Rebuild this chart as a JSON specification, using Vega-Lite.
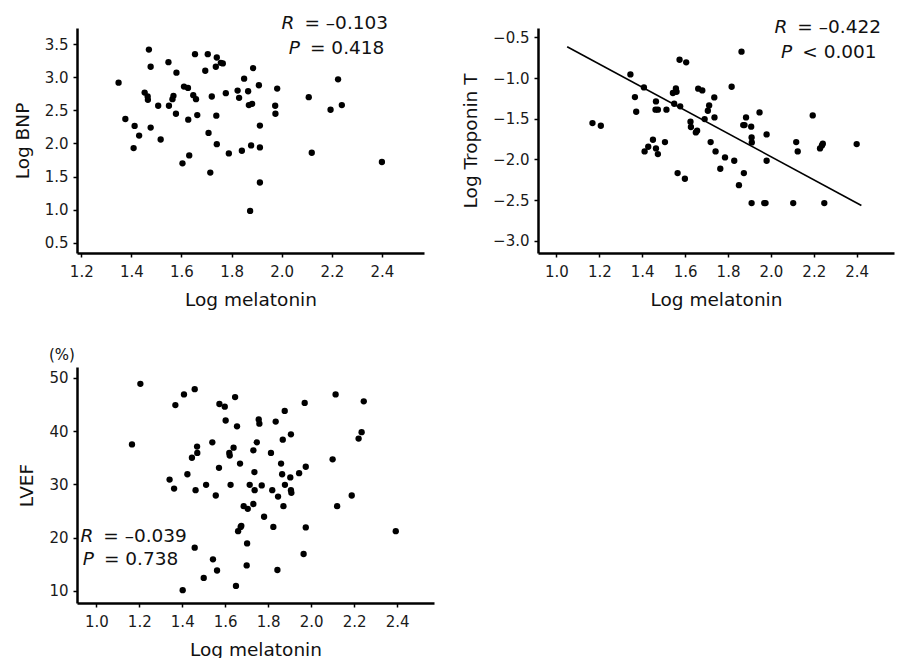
{
  "$schema": "https://vega.github.io/schema/vega-lite/v6.json",
  "padding": {"left": 13, "top": 13, "right": 5, "bottom": 5},
  "background": "white",
  "columns": 2,
  "bounds": "flush",
  "spacing": {"row": 114, "column": 104},
  "config": {
    "view": {"stroke": null},
    "font": "DejaVu Sans",
    "axis": {
      "grid": false,
      "domainColor": "#000",
      "domainWidth": 2.5,
      "tickColor": "#000",
      "tickWidth": 1.5,
      "tickSize": 4,
      "labelFont": "DejaVu Sans",
      "labelFontSize": 15,
      "labelColor": "#1a1a1a",
      "labelPadding": 5,
      "labelOverlap": false,
      "labelFlush": false,
      "titleFont": "DejaVu Sans",
      "titleFontSize": 18.5,
      "titleFontWeight": "normal",
      "titleColor": "#111",
      "titlePadding": 12
    },
    "axisX": {"labelPadding": 7, "titlePadding": 11},
    "text": {"font": "DejaVu Sans", "fontSize": 18.5, "color": "#111", "baseline": "middle"}
  },
  "datasets": {
    "bnp": [
      {"m": 1.349, "v": 2.92}, {"m": 1.376, "v": 2.37}, {"m": 1.413, "v": 2.265}, {"m": 1.409, "v": 1.93},
      {"m": 1.431, "v": 2.12}, {"m": 1.453, "v": 2.77}, {"m": 1.465, "v": 2.71}, {"m": 1.466, "v": 2.66},
      {"m": 1.47, "v": 3.42}, {"m": 1.477, "v": 3.16}, {"m": 1.477, "v": 2.24}, {"m": 1.507, "v": 2.57},
      {"m": 1.517, "v": 2.06}, {"m": 1.548, "v": 3.23}, {"m": 1.55, "v": 2.57}, {"m": 1.564, "v": 2.67},
      {"m": 1.568, "v": 2.72}, {"m": 1.578, "v": 2.45}, {"m": 1.58, "v": 3.07}, {"m": 1.604, "v": 1.7},
      {"m": 1.61, "v": 2.86}, {"m": 1.626, "v": 2.84}, {"m": 1.627, "v": 2.36}, {"m": 1.631, "v": 1.82},
      {"m": 1.647, "v": 2.73}, {"m": 1.654, "v": 3.35}, {"m": 1.658, "v": 2.67}, {"m": 1.663, "v": 2.43},
      {"m": 1.695, "v": 3.1}, {"m": 1.705, "v": 3.35}, {"m": 1.708, "v": 2.16}, {"m": 1.715, "v": 1.56},
      {"m": 1.721, "v": 2.71}, {"m": 1.737, "v": 3.16}, {"m": 1.741, "v": 3.3}, {"m": 1.739, "v": 2.42},
      {"m": 1.741, "v": 1.99}, {"m": 1.757, "v": 3.22}, {"m": 1.765, "v": 3.21}, {"m": 1.777, "v": 2.76},
      {"m": 1.789, "v": 1.85}, {"m": 1.824, "v": 2.8}, {"m": 1.83, "v": 2.69}, {"m": 1.841, "v": 1.89},
      {"m": 1.85, "v": 2.98}, {"m": 1.866, "v": 2.79}, {"m": 1.869, "v": 2.58}, {"m": 1.874, "v": 0.98},
      {"m": 1.878, "v": 1.97}, {"m": 1.882, "v": 2.6}, {"m": 1.886, "v": 3.14}, {"m": 1.909, "v": 2.88},
      {"m": 1.913, "v": 2.27}, {"m": 1.913, "v": 1.94}, {"m": 1.913, "v": 1.41}, {"m": 1.974, "v": 2.57},
      {"m": 1.975, "v": 2.45}, {"m": 1.982, "v": 2.83}, {"m": 2.108, "v": 2.7}, {"m": 2.12, "v": 1.86},
      {"m": 2.195, "v": 2.51}, {"m": 2.225, "v": 2.97}, {"m": 2.24, "v": 2.58}, {"m": 2.4, "v": 1.72}
    ],
    "trop": [
      {"m": 1.168, "v": -1.553}, {"m": 1.207, "v": -1.586}, {"m": 1.345, "v": -0.955}, {"m": 1.366, "v": -1.234},
      {"m": 1.372, "v": -1.414}, {"m": 1.408, "v": -1.115}, {"m": 1.411, "v": -1.902}, {"m": 1.428, "v": -1.844},
      {"m": 1.45, "v": -1.758}, {"m": 1.464, "v": -1.287}, {"m": 1.464, "v": -1.865}, {"m": 1.462, "v": -1.389},
      {"m": 1.473, "v": -1.389}, {"m": 1.473, "v": -1.934}, {"m": 1.506, "v": -1.787}, {"m": 1.513, "v": -1.389},
      {"m": 1.543, "v": -1.184}, {"m": 1.549, "v": -1.316}, {"m": 1.557, "v": -1.127}, {"m": 1.56, "v": -1.168},
      {"m": 1.565, "v": -2.168}, {"m": 1.574, "v": -0.775}, {"m": 1.577, "v": -1.348}, {"m": 1.599, "v": -2.238},
      {"m": 1.605, "v": -0.807}, {"m": 1.625, "v": -1.537}, {"m": 1.627, "v": -1.602}, {"m": 1.65, "v": -1.668},
      {"m": 1.656, "v": -1.648}, {"m": 1.661, "v": -1.131}, {"m": 1.68, "v": -1.152}, {"m": 1.691, "v": -1.504},
      {"m": 1.706, "v": -1.402}, {"m": 1.712, "v": -1.336}, {"m": 1.719, "v": -1.787}, {"m": 1.736, "v": -1.238},
      {"m": 1.737, "v": -1.484}, {"m": 1.742, "v": -1.902}, {"m": 1.764, "v": -2.115}, {"m": 1.786, "v": -1.975},
      {"m": 1.817, "v": -1.107}, {"m": 1.829, "v": -2.016}, {"m": 1.851, "v": -2.316}, {"m": 1.863, "v": -0.676},
      {"m": 1.871, "v": -1.578}, {"m": 1.877, "v": -1.578}, {"m": 1.874, "v": -2.168}, {"m": 1.884, "v": -1.484},
      {"m": 1.908, "v": -1.598}, {"m": 1.91, "v": -1.73}, {"m": 1.911, "v": -1.791}, {"m": 1.91, "v": -2.537},
      {"m": 1.947, "v": -1.422}, {"m": 1.969, "v": -2.537}, {"m": 1.975, "v": -2.537}, {"m": 1.98, "v": -1.693},
      {"m": 1.98, "v": -2.016}, {"m": 2.104, "v": -2.537}, {"m": 2.118, "v": -1.787}, {"m": 2.125, "v": -1.902},
      {"m": 2.195, "v": -1.459}, {"m": 2.229, "v": -1.865}, {"m": 2.238, "v": -1.828}, {"m": 2.242, "v": -1.807},
      {"m": 2.249, "v": -2.537}, {"m": 2.4, "v": -1.811}
    ],
    "fit": [
      {"m": 1.05, "v": -0.615}, {"m": 2.422, "v": -2.566}
    ],
    "lvef": [
      {"m": 1.166, "v": 37.5}, {"m": 1.205, "v": 48.9}, {"m": 1.341, "v": 30.9}, {"m": 1.362, "v": 29.2},
      {"m": 1.368, "v": 44.9}, {"m": 1.402, "v": 10.1}, {"m": 1.408, "v": 46.9}, {"m": 1.424, "v": 31.9},
      {"m": 1.445, "v": 35.0}, {"m": 1.458, "v": 47.9}, {"m": 1.458, "v": 18.1}, {"m": 1.462, "v": 28.9},
      {"m": 1.469, "v": 37.1}, {"m": 1.47, "v": 35.9}, {"m": 1.5, "v": 12.4}, {"m": 1.511, "v": 29.9},
      {"m": 1.54, "v": 37.9}, {"m": 1.543, "v": 15.9}, {"m": 1.556, "v": 27.9}, {"m": 1.562, "v": 13.8},
      {"m": 1.571, "v": 33.1}, {"m": 1.573, "v": 45.1}, {"m": 1.598, "v": 44.6}, {"m": 1.602, "v": 42.0},
      {"m": 1.619, "v": 35.9}, {"m": 1.621, "v": 35.4}, {"m": 1.625, "v": 29.9}, {"m": 1.639, "v": 36.9},
      {"m": 1.646, "v": 46.4}, {"m": 1.65, "v": 10.9}, {"m": 1.655, "v": 40.9}, {"m": 1.66, "v": 21.2},
      {"m": 1.672, "v": 22.0}, {"m": 1.669, "v": 33.9}, {"m": 1.675, "v": 22.2}, {"m": 1.686, "v": 25.9},
      {"m": 1.705, "v": 25.4}, {"m": 1.702, "v": 18.9}, {"m": 1.7, "v": 14.75}, {"m": 1.714, "v": 29.9},
      {"m": 1.731, "v": 36.4}, {"m": 1.731, "v": 26.3}, {"m": 1.736, "v": 32.3}, {"m": 1.737, "v": 28.9},
      {"m": 1.747, "v": 37.9}, {"m": 1.756, "v": 42.2}, {"m": 1.759, "v": 41.4}, {"m": 1.77, "v": 29.8},
      {"m": 1.781, "v": 23.9}, {"m": 1.813, "v": 35.9}, {"m": 1.819, "v": 28.9}, {"m": 1.824, "v": 22.0},
      {"m": 1.835, "v": 41.8}, {"m": 1.843, "v": 13.9}, {"m": 1.846, "v": 27.7}, {"m": 1.86, "v": 33.9},
      {"m": 1.865, "v": 31.9}, {"m": 1.868, "v": 38.4}, {"m": 1.871, "v": 25.9}, {"m": 1.877, "v": 43.8},
      {"m": 1.878, "v": 29.9}, {"m": 1.903, "v": 31.3}, {"m": 1.906, "v": 28.9}, {"m": 1.908, "v": 28.4},
      {"m": 1.906, "v": 39.4}, {"m": 1.944, "v": 32.1}, {"m": 1.965, "v": 16.9}, {"m": 1.97, "v": 45.3},
      {"m": 1.975, "v": 21.9}, {"m": 1.975, "v": 33.3}, {"m": 2.1, "v": 34.7}, {"m": 2.114, "v": 46.9},
      {"m": 2.121, "v": 25.9}, {"m": 2.189, "v": 27.9}, {"m": 2.221, "v": 38.6}, {"m": 2.235, "v": 39.8},
      {"m": 2.245, "v": 45.6}, {"m": 2.394, "v": 21.2}
    ],
    "bnpStats": [
      {"m": 2.071, "v": 3.828, "letter": "R", "rest": "= –0.103"},
      {"m": 2.093, "v": 3.45, "letter": "P", "rest": "= 0.418"}
    ],
    "tropStats": [
      {"m": 2.1, "v": -0.373, "letter": "R", "rest": "= –0.422"},
      {"m": 2.123, "v": -0.68, "letter": "P", "rest": "< 0.001"}
    ],
    "lvefStats": [
      {"m": 1.009, "v": 20.31, "letter": "R", "rest": "= –0.039"},
      {"m": 1.012, "v": 15.94, "letter": "P", "rest": "= 0.738"}
    ],
    "unit": [
      {"m": 0.84, "v": 54.25, "label": "(%)"}
    ]
  },
  "concat": [
    {
      "width": 347,
      "height": 225,
      "layer": [
        {
          "data": {"name": "bnp"},
          "mark": {"type": "circle", "size": 40, "opacity": 1, "color": "#000"},
          "encoding": {
            "x": {"field": "m", "type": "quantitative", "title": "Log melatonin",
                  "scale": {"domain": [1.183, 2.568], "nice": false, "zero": false},
                  "axis": {"values": [1.2, 1.4, 1.6, 1.8, 2.0, 2.2, 2.4], "format": ".1f", "labelOverlap": false}},
            "y": {"field": "v", "type": "quantitative", "title": "Log BNP",
                  "scale": {"domain": [0.344, 3.746], "nice": false, "zero": false},
                  "axis": {"tickCount": 7, "format": ".1f", "labelOverlap": false}}
          }
        },
        {
          "data": {"name": "bnpStats"},
          "mark": {"type": "text", "align": "right", "fontStyle": "italic", "dx": -5},
          "encoding": {"x": {"field": "m", "type": "quantitative"}, "y": {"field": "v", "type": "quantitative"}, "text": {"field": "letter"}}
        },
        {
          "data": {"name": "bnpStats"},
          "mark": {"type": "text", "align": "left", "dx": 5},
          "encoding": {"x": {"field": "m", "type": "quantitative"}, "y": {"field": "v", "type": "quantitative"}, "text": {"field": "rest"}}
        }
      ]
    },
    {
      "width": 356,
      "height": 225,
      "layer": [
        {
          "data": {"name": "trop"},
          "mark": {"type": "circle", "size": 40, "opacity": 1, "color": "#000"},
          "encoding": {
            "x": {"field": "m", "type": "quantitative", "title": "Log melatonin",
                  "scale": {"domain": [0.914, 2.574], "nice": false, "zero": false},
                  "axis": {"values": [1.0, 1.2, 1.4, 1.6, 1.8, 2.0, 2.2, 2.4], "format": ".1f", "labelOverlap": false}},
            "y": {"field": "v", "type": "quantitative", "title": "Log Troponin T",
                  "scale": {"domain": [-3.15, -0.385], "nice": false, "zero": false},
                  "axis": {"values": [-3.0, -2.5, -2.0, -1.5, -1.0, -0.5], "format": ".1f", "labelOverlap": false}}
          }
        },
        {
          "data": {"name": "fit"},
          "mark": {"type": "line", "color": "#000", "strokeWidth": 1.6},
          "encoding": {"x": {"field": "m", "type": "quantitative"}, "y": {"field": "v", "type": "quantitative"}}
        },
        {
          "data": {"name": "tropStats"},
          "mark": {"type": "text", "align": "right", "fontStyle": "italic", "dx": -5},
          "encoding": {"x": {"field": "m", "type": "quantitative"}, "y": {"field": "v", "type": "quantitative"}, "text": {"field": "letter"}}
        },
        {
          "data": {"name": "tropStats"},
          "mark": {"type": "text", "align": "left", "dx": 5},
          "encoding": {"x": {"field": "m", "type": "quantitative"}, "y": {"field": "v", "type": "quantitative"}, "text": {"field": "rest"}}
        }
      ]
    },
    {
      "width": 357,
      "height": 236,
      "layer": [
        {
          "data": {"name": "lvef"},
          "mark": {"type": "circle", "size": 40, "opacity": 1, "color": "#000"},
          "encoding": {
            "x": {"field": "m", "type": "quantitative", "title": "Log melatonin",
                  "scale": {"domain": [0.91, 2.572], "nice": false, "zero": false},
                  "axis": {"values": [1.0, 1.2, 1.4, 1.6, 1.8, 2.0, 2.2, 2.4], "format": ".1f", "labelOverlap": false}},
            "y": {"field": "v", "type": "quantitative", "title": "LVEF",
                  "scale": {"domain": [7.69, 52.06], "nice": false, "zero": false},
                  "axis": {"values": [10, 20, 30, 40, 50], "format": "d", "labelOverlap": false}}
          }
        },
        {
          "data": {"name": "lvefStats"},
          "mark": {"type": "text", "align": "right", "fontStyle": "italic", "dx": -5},
          "encoding": {"x": {"field": "m", "type": "quantitative"}, "y": {"field": "v", "type": "quantitative"}, "text": {"field": "letter"}}
        },
        {
          "data": {"name": "lvefStats"},
          "mark": {"type": "text", "align": "left", "dx": 5},
          "encoding": {"x": {"field": "m", "type": "quantitative"}, "y": {"field": "v", "type": "quantitative"}, "text": {"field": "rest"}}
        },
        {
          "data": {"name": "unit"},
          "mark": {"type": "text", "align": "center", "fontSize": 15},
          "encoding": {"x": {"field": "m", "type": "quantitative"}, "y": {"field": "v", "type": "quantitative"}, "text": {"field": "label"}}
        }
      ]
    }
  ]
}
